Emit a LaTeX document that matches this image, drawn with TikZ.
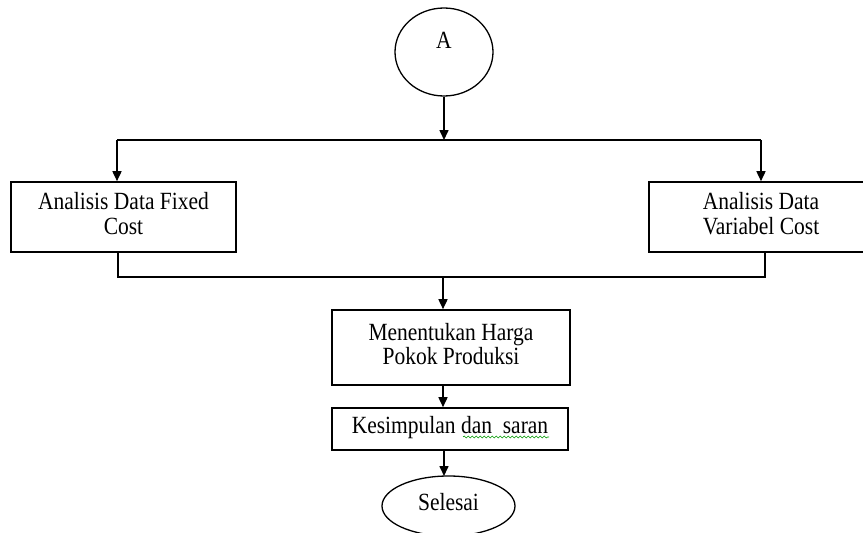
\documentclass[tikz,border=0pt]{standalone}
\usepackage{fontspec}
\setmainfont{Liberation Serif}
\usetikzlibrary{arrows.meta,shapes.geometric,decorations.pathmorphing}
\newcommand{\tallt}[1]{\scalebox{1}[1.15]{\begin{tabular}{@{}c@{}}#1\end{tabular}}}
\begin{document}
\begin{tikzpicture}[x=1pt,y=-1pt,
  every node/.style={font=\fontsize{21.5}{21.7}\selectfont},
  box/.style={draw,line width=1.6pt,rectangle,inner sep=0pt,align=center},
  conn/.style={line width=1.6pt},
  arr/.style={conn,-{Triangle[length=10pt,width=9pt]}}]
\useasboundingbox (0,0) rectangle (863,533);
\clip (0,0) rectangle (863,533);
\fill[white] (0,0) rectangle (863,533);
% nodes
\node[draw,ellipse,line width=1.3pt,minimum width=98pt,minimum height=88pt,inner sep=0pt,text depth=24pt] (A) at (444,52) {\tallt{A}};
\node[box,minimum width=225pt,minimum height=70pt] (L) at (123.5,217) {\tallt{Analisis Data Fixed\\Cost}};
\node[box,minimum width=224pt,minimum height=70pt] (R) at (761,217) {\tallt{Analisis Data\\Variabel Cost}};
\node[box,minimum width=238pt,minimum height=75pt] (M) at (451,347.5) {\tallt{Menentukan Harga\\Pokok Produksi}};
\node[box,minimum width=236pt,minimum height=42pt] (K) at (450,429) {\tallt{Kesimpulan dan~ saran}};
\node[draw,ellipse,line width=1.3pt,minimum width=133pt,minimum height=60pt,inner sep=0pt] (S) at (448.5,506) {\tallt{Selesai}};
% coordinates
\coordinate (top) at (444,140);
\coordinate (tl) at (117,140);
\coordinate (tr) at (761,140);
\coordinate (bl) at (118,277);
\coordinate (br) at (765,277);
\coordinate (mid) at (443,277);
% connectors
\draw[arr] (A.south) -- (top);
\draw[conn] (tl) -- (tr);
\draw[arr] (tl) -- (tl |- L.north);
\draw[arr] (tr) -- (tr |- R.north);
\draw[conn] (bl |- L.south) -- (bl) -- (br) -- (br |- R.south);
\draw[arr] (mid) -- (mid |- M.north);
\draw[arr] (mid |- M.south) -- (mid |- K.north);
\draw[arr] (444,450) -- (444,476);
% spell-check underline
\draw[green!60!black,line width=0.6pt,decorate,decoration={snake,amplitude=1pt,segment length=4pt}] (463,437) -- (549,437);
\end{tikzpicture}
\end{document}
